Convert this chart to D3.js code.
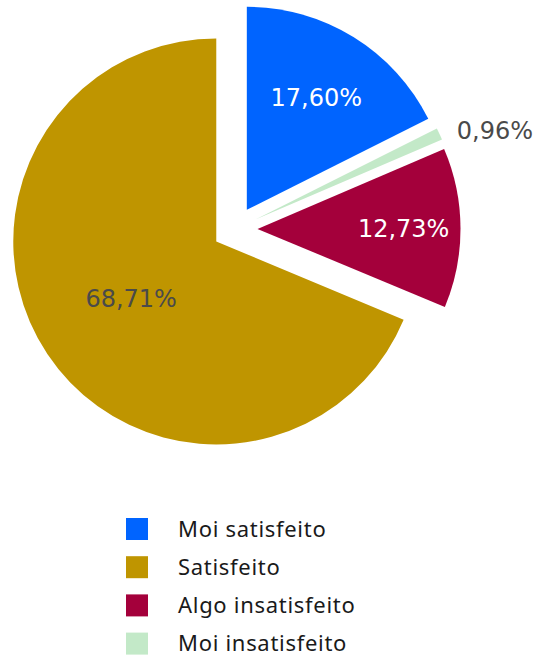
<!DOCTYPE html>
<html>
<head>
<meta charset="utf-8">
<script src="https://cdn.jsdelivr.net/npm/d3@7"></script>
<style>
  body { margin: 0; background: #fff; }
  svg { display: block; }
</style>
</head>
<body>
<div id="chart"></div>
<script>
// legend order
const categories = ["Moi satisfeito", "Satisfeito", "Algo insatisfeito", "Moi insatisfeito"];
const values = [17.60, 68.71, 12.73, 0.96];
const colors = ["#0064ff", "#bf9500", "#a4003b", "#c3e9c8"];
// clockwise order of the slices from 12 o'clock
const sliceOrder = ["Moi satisfeito", "Moi insatisfeito", "Algo insatisfeito", "Satisfeito"];

const width = 538,
  height = 656,
  cx = 235,
  cy = 229,
  radius = 203,
  explode = 22.5;

// label placement: fraction of radius from the slice apex, or "outside"
const labelStyle = {
  "Moi satisfeito": { pos: 0.652, fill: "#ffffff" },
  "Satisfeito": { pos: 0.504, fill: "#4a4a4a" },
  "Algo insatisfeito": { pos: 0.72, fill: "#ffffff" },
  "Moi insatisfeito": { pos: "outside", fill: "#4a4a4a" }
};

const locale = d3.formatLocale({ decimal: ",", thousands: ".", grouping: [3], currency: ["", "€"] });
const pct = v => locale.format(".2f")(v) + "%";

const color = d3.scaleOrdinal().domain(categories).range(colors);

const data = sliceOrder.map(name => ({ name, value: values[categories.indexOf(name)] }));

const pie = d3.pie().sort(null).value(d => d.value);
const arc = d3.arc().innerRadius(0).outerRadius(radius);

const svg = d3.select("#chart").append("svg")
  .attr("width", width)
  .attr("height", height);

const g = svg.append("g").attr("transform", "translate(" + cx + "," + cy + ")");

const arcs = pie(data);
const mid = d => (d.startAngle + d.endAngle) / 2;

const slice = g.selectAll("g.slice")
  .data(arcs)
  .enter()
  .append("g")
  .attr("class", "slice")
  .attr("transform", d => "translate(" + explode * Math.sin(mid(d)) + "," + -explode * Math.cos(mid(d)) + ")");

slice.append("path")
  .attr("d", arc)
  .attr("fill", d => color(d.data.name));

slice.append("text")
  .attr("font-family", "DejaVu Sans, Verdana, sans-serif")
  .attr("font-size", 24)
  .attr("fill", d => labelStyle[d.data.name].fill)
  .attr("dy", "0.36em")
  .each(function(d) {
    const s = labelStyle[d.data.name];
    const a = mid(d);
    const r = s.pos === "outside" ? radius + 19 : radius * s.pos;
    d3.select(this)
      .attr("x", r * Math.sin(a))
      .attr("y", -r * Math.cos(a) + (s.pos === "outside" ? 4 : 0))
      .attr("text-anchor", s.pos === "outside" ? "start" : "middle");
  })
  .text(d => pct(d.data.value));

// legend
const legend = svg.append("g").attr("transform", "translate(126, 518)");

const item = legend.selectAll("g.item")
  .data(categories)
  .enter()
  .append("g")
  .attr("class", "item")
  .attr("transform", (d, i) => "translate(0," + i * 38.2 + ")");

item.append("rect")
  .attr("width", 22)
  .attr("height", 22)
  .attr("fill", d => color(d));

item.append("text")
  .attr("x", 52)
  .attr("y", 11)
  .attr("dy", "0.35em")
  .attr("font-family", "Noto Sans, sans-serif")
  .attr("font-size", 22)
  .attr("letter-spacing", 0.7)
  .attr("fill", "#1a1a1a")
  .text(d => d);
</script>
</body>
</html>
